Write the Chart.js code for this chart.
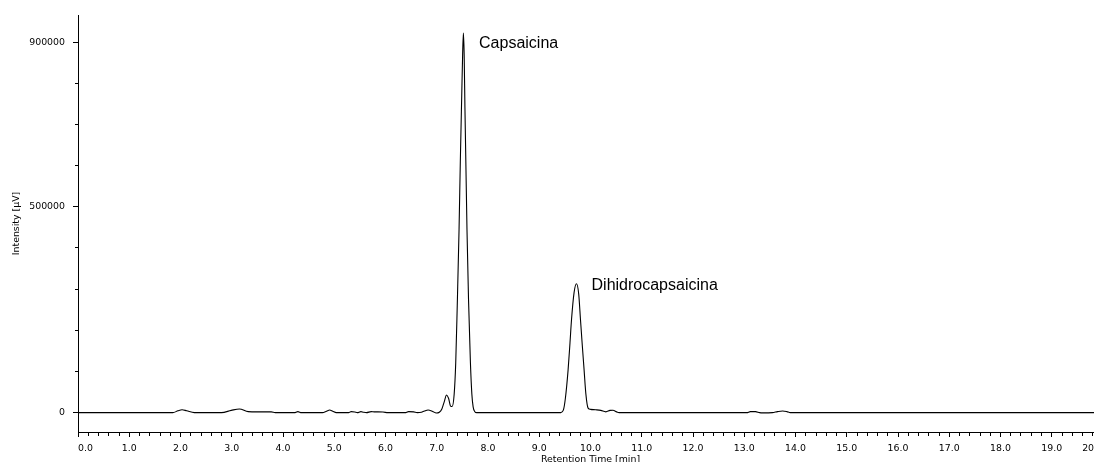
<!DOCTYPE html>
<html>
<head>
<meta charset="utf-8">
<title>Cromatograma</title>
<script src="https://cdn.jsdelivr.net/npm/chart.js@4/dist/chart.umd.min.js"></script>
<style>
  html, body { margin: 0; padding: 0; background: #fff; overflow: hidden; }
  #wrap { width: 1120px; height: 470px; }
</style>
</head>
<body>
<div id="wrap"><canvas id="chromChart" width="1120" height="470"></canvas></div>
<script>
const retentionTime = [
  0, 1.85, 1.95, 2.03, 2.12, 2.27, 2.80, 2.99, 3.15, 3.32, 3.50, 3.77, 3.85,
  4.22, 4.29, 4.36, 4.77, 4.85, 4.91, 4.97, 5.04, 5.28, 5.33, 5.40, 5.45,
  5.52, 5.57, 5.63, 5.72, 5.78, 5.95, 6.05, 6.38, 6.45, 6.55, 6.62, 6.70,
  6.76, 6.83, 6.92, 6.99, 7.05, 7.10, 7.15, 7.19, 7.23, 7.27, 7.30, 7.34,
  7.37, 7.40, 7.435, 7.46, 7.487, 7.505, 7.52, 7.535, 7.55, 7.59, 7.62,
  7.657, 7.685, 7.71, 7.74, 7.78, 9.42, 9.47, 9.51, 9.563, 9.60, 9.629,
  9.68, 9.727, 9.77, 9.805, 9.84, 9.875, 9.91, 9.953, 10.0, 10.1, 10.2,
  10.3, 10.38, 10.44, 10.50, 10.56, 13.05, 13.12, 13.22, 13.30, 13.36,
  13.55, 13.65, 13.75, 13.83, 13.90, 20
];
const intensity = [
  0, 0, 4500, 7000, 4500, 0, 0, 5500, 9000, 2500, 2000, 2000, 0,
  0, 2500, 0, 0, 3500, 6500, 3500, 0, 0, 2500, 1500, 0,
  2500, 1000, 0, 2500, 2000, 1500, 0, 0, 2500, 2000, 0, 1000,
  4000, 6500, 3000, -1000, 1000, 9000, 28000, 43000, 35000, 16000, 15000, 45000,
  120000, 260000, 444000, 610000, 768000, 870000, 922000, 870000, 740000, 444000, 275000,
  121000, 45000, 14000, 3000, 0, 0, 6000, 35000, 104000, 170000, 225000,
  292000, 313000, 288000, 225000, 163000, 104000, 45000, 11000, 8000, 7000, 5500,
  2000, 5500, 6000, 2500, 0, 0, 2500, 2500, 0, -500,
  0, 2500, 4000, 2500, 0, 0
];

// ejes
const xTickValues = Array.from({ length: 101 }, (_, i) => i / 5);
const yTickValues = [0, 100000, 200000, 300000, 400000, 500000, 600000, 700000, 800000, 900000];
const yLabelled = [0, 500000, 900000];

// etiquetas de picos
const peakNames = ['Capsaicina', 'Dihidrocapsaicina'];
const peakLabelX = [7.825, 10.02];
const peakLabelY = [886000, 298000];

const isWhole = v => Math.abs(v - Math.round(v)) < 1e-6;

const peakLabels = {
  id: 'peakLabels',
  afterDatasetsDraw(chart) {
    const { ctx, scales: { x, y } } = chart;
    ctx.save();
    ctx.font = '16px "Liberation Sans", Arial, sans-serif';
    ctx.fillStyle = '#000';
    ctx.textAlign = 'left';
    ctx.textBaseline = 'alphabetic';
    peakNames.forEach((name, i) => {
      ctx.fillText(name, x.getPixelForValue(peakLabelX[i]), y.getPixelForValue(peakLabelY[i]));
    });
    ctx.restore();
  }
};

Chart.defaults.font.family = '"DejaVu Sans", Verdana, sans-serif';
Chart.defaults.font.size = 9.4;
Chart.defaults.color = '#000';

const ctx = document.getElementById('chromChart').getContext('2d');

new Chart(ctx, {
  type: 'line',
  data: {
    datasets: [{
      data: retentionTime.map((t, i) => ({ x: t, y: intensity[i] })),
      borderColor: '#000',
      borderWidth: 1.1,
      pointRadius: 0,
      fill: false,
      cubicInterpolationMode: 'monotone'
    }]
  },
  options: {
    responsive: false,
    animation: false,
    layout: { padding: { top: 15, right: 17, bottom: 0, left: 0 } },
    plugins: {
      legend: { display: false },
      tooltip: { enabled: false }
    },
    scales: {
      x: {
        type: 'linear',
        min: 0,
        max: 20,
        afterBuildTicks: axis => { axis.ticks = xTickValues.map(v => ({ value: v })); },
        afterFit: axis => { axis.height = 38; },
        border: { display: true, color: '#000', width: 1 },
        grid: {
          drawOnChartArea: false,
          tickLength: 5,
          tickColor: '#000',
          tickBorderDash: c => (c.tick && isWhole(c.tick.value)) ? [] : [3, 10]
        },
        ticks: {
          autoSkip: false,
          maxRotation: 0,
          align: 'inner',
          padding: 6,
          callback: v => isWhole(v) ? Number(v).toFixed(1) : ''
        },
        title: {
          display: true,
          text: 'Retention Time [min]',
          padding: { top: 0, bottom: 5 }
        }
      },
      y: {
        min: -47000,
        max: 966000,
        afterBuildTicks: axis => { axis.ticks = yTickValues.map(v => ({ value: v })); },
        afterFit: axis => { axis.width = 78; },
        border: { display: true, color: '#000', width: 1 },
        grid: {
          drawOnChartArea: false,
          tickLength: 5,
          tickColor: '#000',
          tickBorderDash: c => (c.tick && yLabelled.includes(c.tick.value)) ? [] : [0, 2, 3, 10]
        },
        ticks: {
          autoSkip: false,
          padding: 8,
          callback: v => yLabelled.includes(v) ? String(v) : ''
        },
        title: {
          display: true,
          text: 'Intensity [µV]',
          padding: { top: 11, bottom: 4 }
        }
      }
    }
  },
  plugins: [peakLabels]
});
</script>
</body>
</html>
